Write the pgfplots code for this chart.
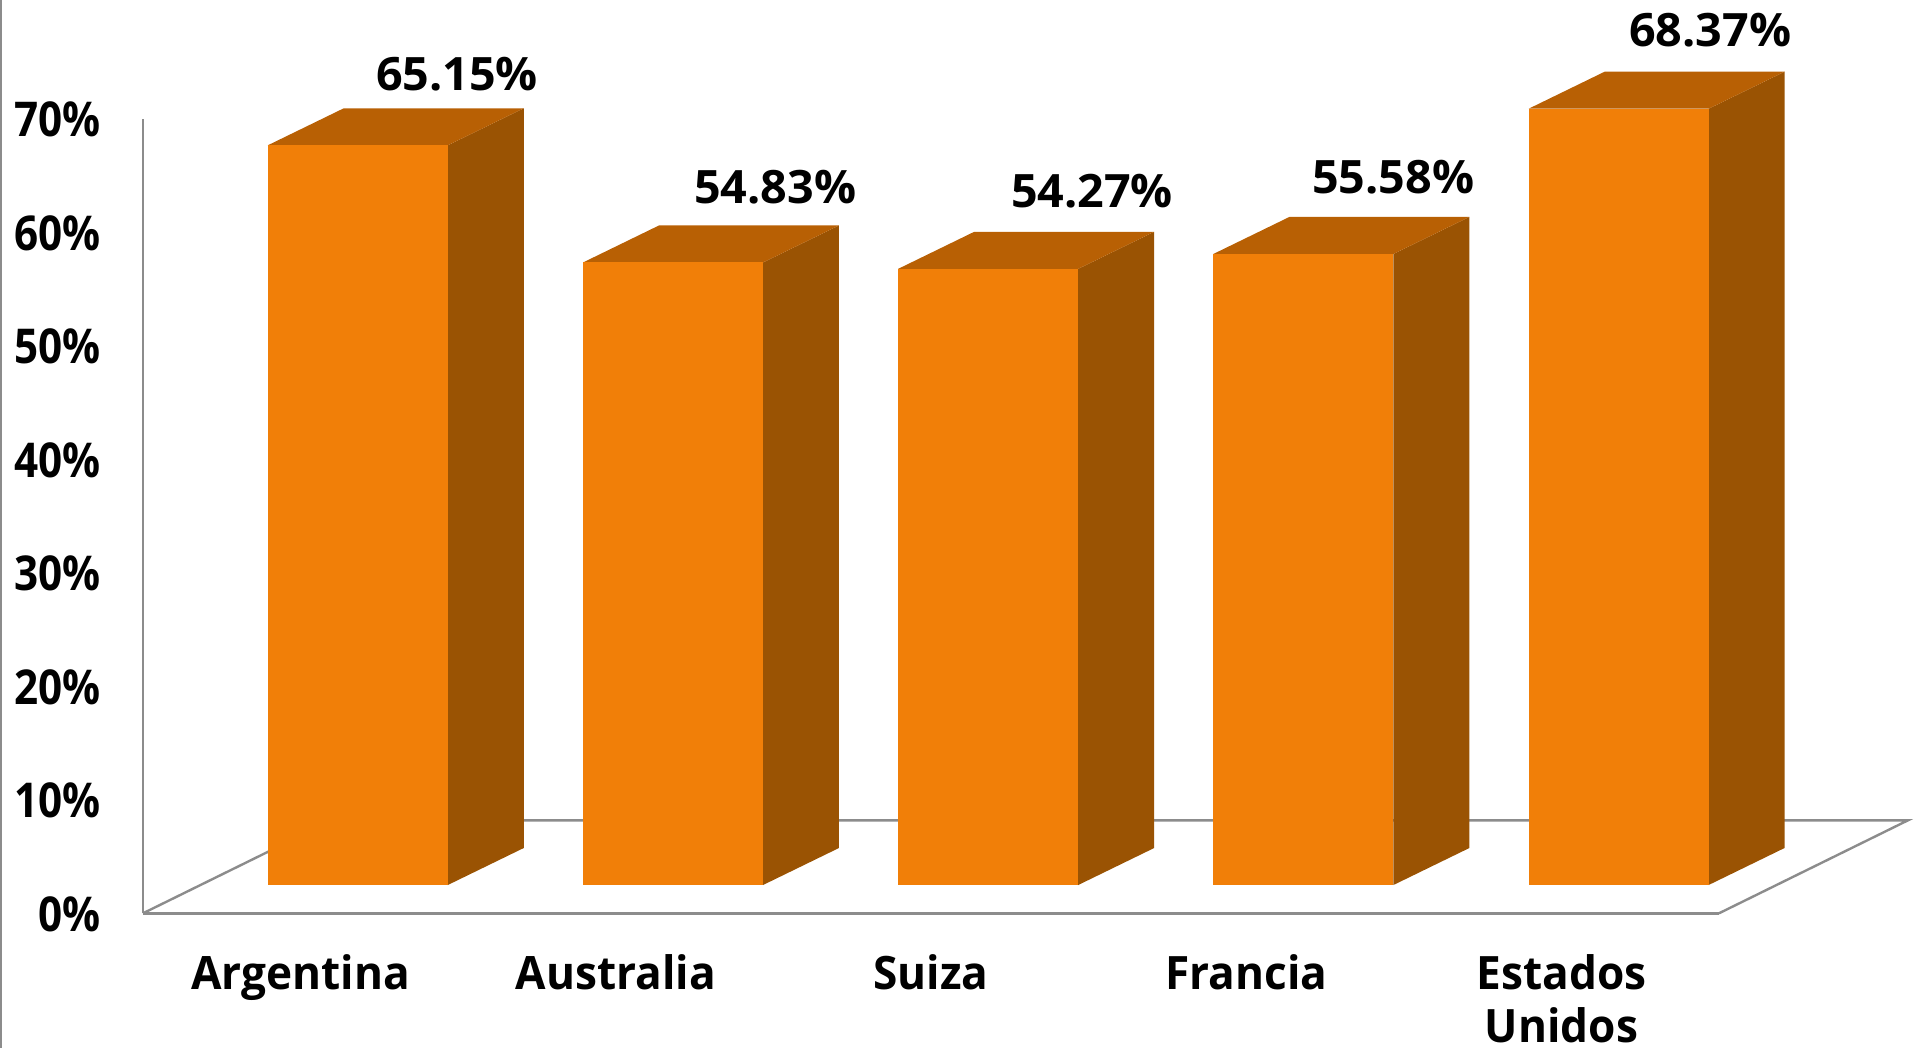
\documentclass[border=0pt]{standalone}
\usepackage{fontspec}
\setmainfont{Open Sans}
\newfontfamily\ytickf[FakeStretch=0.88]{Open Sans}
\newfontfamily\xtickf[FakeStretch=0.96]{Open Sans}
\newfontfamily\dataf[FakeStretch=1.015]{Open Sans}
\usepackage{pgfplots}
\pgfplotsset{compat=1.18}
\definecolor{front}{HTML}{F17F08}
\definecolor{topf}{HTML}{B86004}
\definecolor{sidef}{HTML}{9A5303}
\definecolor{axisg}{HTML}{8C8C8C}
\begin{document}
\begin{tikzpicture}[x=1pt,y=1pt]
\useasboundingbox (-71.5pt,-67.35pt) rectangle (886pt,456.65pt);
\begin{axis}[
  at={(0pt,0pt)},anchor=south west,
  scale only axis,width=788pt,height=397.4pt,
  xmin=0,xmax=5,ymin=0,ymax=70,
  clip=false,
  axis x line=bottom,axis y line=left,
  axis line style={draw=axisg,line width=1.4pt,-},
  major tick length=0pt,
  ytick={0,10,20,30,40,50,60,70},
  yticklabels={0\%,10\%,20\%,30\%,40\%,50\%,60\%,70\%},
  xtick={0.5,1.5,2.5,3.5,4.5},
  xticklabels={Argentina,Australia,Suiza,Francia,Estados\\Unidos},
  yticklabel style={font=\fontsize{24}{28}\selectfont\ytickf\bfseries,xshift=-17.5pt,yshift=-0.5pt,anchor=east},
  xticklabel style={font=\fontsize{23}{26.4}\selectfont\xtickf\bfseries,align=center,anchor=north,yshift=-17pt},
  nodes near coords style={font=\fontsize{23}{27.5}\selectfont\dataf\bfseries,anchor=center},
]
% page border line and floor
\addplot[axisg,line width=1pt] coordinates {(-0.4515,-11.86) (-0.4515,80.4)};
\addplot[axisg,line width=1.2pt] coordinates {(0,0) (0.5996,8.19) (5.5996,8.19) (5,0)};
% Argentina 65.15
\addplot[fill=sidef,draw=none] coordinates {(0.967,2.49) (1.208,5.75) (1.208,70.90) (0.967,67.64)} --cycle;
\addplot[fill=topf,draw=none] coordinates {(0.396,67.64) (0.637,70.90) (1.208,70.90) (0.967,67.64)} --cycle;
\addplot[fill=front,draw=none] coordinates {(0.396,2.49) (0.967,2.49) (0.967,67.64) (0.396,67.64)} --cycle;
% Australia 54.83
\addplot[fill=sidef,draw=none] coordinates {(1.967,2.49) (2.208,5.75) (2.208,60.58) (1.967,57.32)} --cycle;
\addplot[fill=topf,draw=none] coordinates {(1.396,57.32) (1.637,60.58) (2.208,60.58) (1.967,57.32)} --cycle;
\addplot[fill=front,draw=none] coordinates {(1.396,2.49) (1.967,2.49) (1.967,57.32) (1.396,57.32)} --cycle;
% Suiza 54.27
\addplot[fill=sidef,draw=none] coordinates {(2.967,2.49) (3.208,5.75) (3.208,60.02) (2.967,56.76)} --cycle;
\addplot[fill=topf,draw=none] coordinates {(2.396,56.76) (2.637,60.02) (3.208,60.02) (2.967,56.76)} --cycle;
\addplot[fill=front,draw=none] coordinates {(2.396,2.49) (2.967,2.49) (2.967,56.76) (2.396,56.76)} --cycle;
% Francia 55.58
\addplot[fill=sidef,draw=none] coordinates {(3.967,2.49) (4.208,5.75) (4.208,61.33) (3.967,58.07)} --cycle;
\addplot[fill=topf,draw=none] coordinates {(3.396,58.07) (3.637,61.33) (4.208,61.33) (3.967,58.07)} --cycle;
\addplot[fill=front,draw=none] coordinates {(3.396,2.49) (3.967,2.49) (3.967,58.07) (3.396,58.07)} --cycle;
% Estados Unidos 68.37
\addplot[fill=sidef,draw=none] coordinates {(4.967,2.49) (5.208,5.75) (5.208,74.12) (4.967,70.86)} --cycle;
\addplot[fill=topf,draw=none] coordinates {(4.396,70.86) (4.637,74.12) (5.208,74.12) (4.967,70.86)} --cycle;
\addplot[fill=front,draw=none] coordinates {(4.396,2.49) (4.967,2.49) (4.967,70.86) (4.396,70.86)} --cycle;
% data labels
\addplot[draw=none,mark=none,nodes near coords,point meta=explicit symbolic]
  table[meta=label,row sep=\\] {
x y label\\
0.9963 73.87 65.15\%\\
2.0052 63.95 54.83\%\\
3.0108 63.62 54.27\%\\
3.9663 64.84 55.58\%\\
4.9719 77.75 68.37\%\\
};
\end{axis}
\end{tikzpicture}
\end{document}
